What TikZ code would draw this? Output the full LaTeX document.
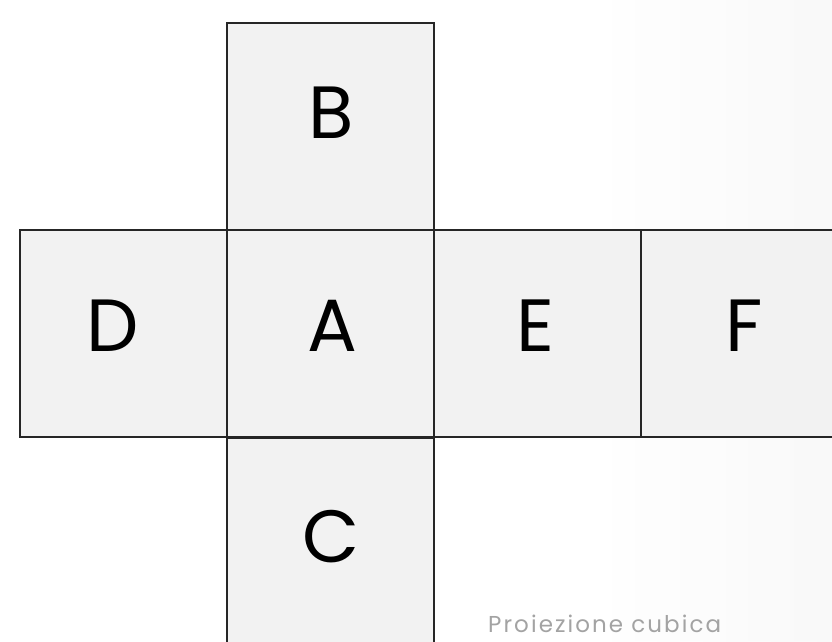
\documentclass[tikz,border=0pt]{standalone}
\usepackage{fontspec}
\setmainfont{Poppins}
\newfontfamily\capfont[LetterSpace=9]{Poppins}
\definecolor{facefill}{HTML}{F2F2F2}
\definecolor{edgecol}{HTML}{262626}
\definecolor{capcol}{HTML}{A3A3A3}
\begin{document}
\begin{tikzpicture}[x=1pt,y=-1pt,
  face/.style={draw=edgecol,line width=2pt,fill=facefill,minimum width=207pt,minimum height=207pt,inner sep=0pt,anchor=north west},
  letter/.style={inner sep=0pt,anchor=center,font=\fontsize{74}{74}\selectfont},
  caption/.style={text=capcol,font=\capfont\fontsize{23}{23}\selectfont,anchor=base west,inner sep=0pt}]
\useasboundingbox (0,0) rectangle (832,641);
\fill[white] (0,0) rectangle (832,641);
\shade[left color=white,right color=gray!8,opacity=0.6] (600,0) rectangle (832,641);
\begin{scope}
\clip (0,0) rectangle (832,641);
\node[face] (B) at (226,22) {};
\node[face] (D) at (19,229) {};
\node[face] (A) at (226,229) {};
\node[face] (E) at (433,229) {};
\node[face] (F) at (640,229) {};
\node[face] (C) at (226,437) {};
\node[letter] (lB) at (331,113) {B};
\node[letter] (lD) at (113,326) {D};
\node[letter] (lA) at (332,326) {A};
\node[letter] (lE) at (535,326) {E};
\node[letter] (lF) at (744,326) {F};
\node[letter] (lC) at (331,537) {C};
\node[caption] (cap) at (488,632) {Proiezione cubica};
\end{scope}
\end{tikzpicture}
\end{document}
